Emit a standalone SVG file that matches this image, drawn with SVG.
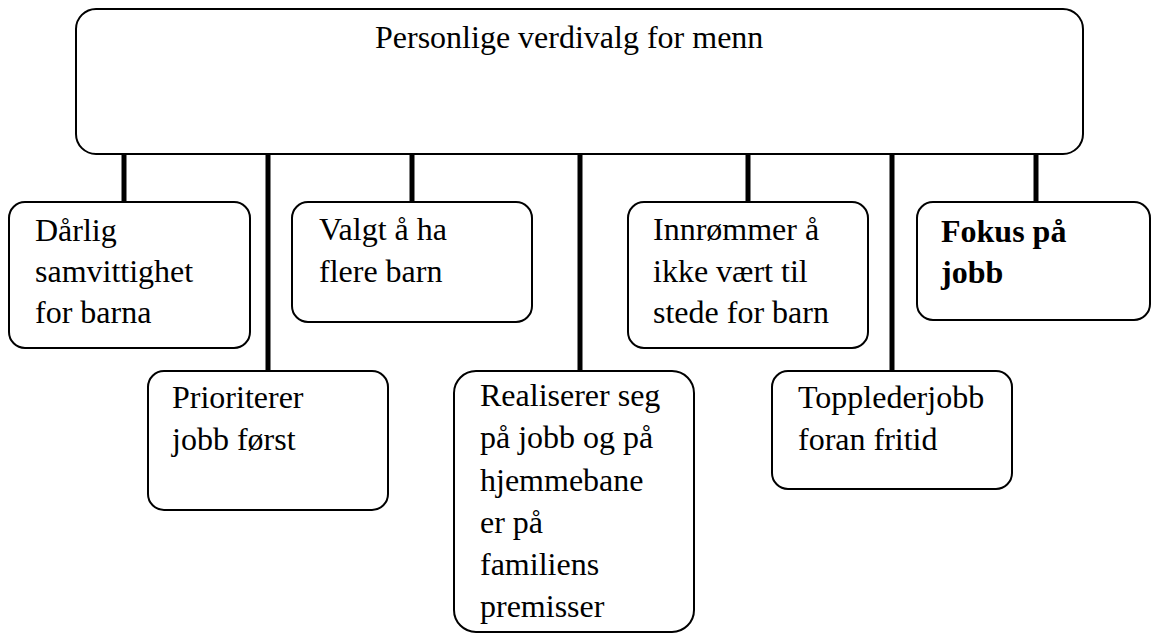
<svg xmlns="http://www.w3.org/2000/svg" width="1152" height="634" viewBox="0 0 1152 634">
  <style>
    .box { fill: #ffffff; stroke: #000000; stroke-width: 2; }
    .link { stroke: #000000; stroke-width: 5; fill: none; }
    .lbl { font-size: 32px; fill: #000000; }
    .bold { font-weight: bold; }
  </style>
  <rect width="1152" height="634" fill="#ffffff"/>

  <!-- vertical connectors from the root box down to each value box -->
  <g id="connectors">
    <line class="link" x1="124" y1="154" x2="124" y2="202"/>
    <line class="link" x1="268" y1="154" x2="268" y2="371"/>
    <line class="link" x1="412" y1="154" x2="412" y2="202"/>
    <line class="link" x1="580" y1="154" x2="580" y2="371"/>
    <line class="link" x1="748" y1="154" x2="748" y2="202"/>
    <line class="link" x1="892" y1="154" x2="892" y2="371"/>
    <line class="link" x1="1036" y1="154" x2="1036" y2="202"/>
  </g>

  <g font-family="'Liberation Serif', 'DejaVu Serif', serif">
  <g id="root">
    <rect class="box" x="76" y="9" width="1007" height="145" rx="20" ry="20"/>
    <text class="lbl" x="375" y="48">Personlige verdivalg for menn</text>
  </g>

  <g id="node-daarlig">
    <rect class="box" x="9" y="202" width="241" height="146" rx="16" ry="16"/>
    <text class="lbl" x="35" y="241">Dårlig</text>
    <text class="lbl" x="35" y="282">samvittighet</text>
    <text class="lbl" x="35" y="323">for barna</text>
  </g>

  <g id="node-prioriterer">
    <rect class="box" x="148" y="371" width="240" height="139" rx="16" ry="16"/>
    <text class="lbl" x="172" y="408">Prioriterer</text>
    <text class="lbl" x="172" y="450">jobb først</text>
  </g>

  <g id="node-valgt">
    <rect class="box" x="292" y="202" width="240" height="120" rx="16" ry="16"/>
    <text class="lbl" x="319" y="240">Valgt å ha</text>
    <text class="lbl" x="319" y="282">flere barn</text>
  </g>

  <g id="node-realiserer">
    <rect class="box" x="454" y="371" width="240" height="261" rx="22" ry="22"/>
    <text class="lbl" x="480" y="406">Realiserer seg</text>
    <text class="lbl" x="480" y="448">på jobb og på</text>
    <text class="lbl" x="480" y="491">hjemmebane</text>
    <text class="lbl" x="480" y="533">er på</text>
    <text class="lbl" x="480" y="575">familiens</text>
    <text class="lbl" x="480" y="617">premisser</text>
  </g>

  <g id="node-innrommer">
    <rect class="box" x="628" y="202" width="240" height="146" rx="16" ry="16"/>
    <text class="lbl" x="653" y="240">Innrømmer å</text>
    <text class="lbl" x="653" y="282">ikke vært til</text>
    <text class="lbl" x="653" y="323">stede for barn</text>
  </g>

  <g id="node-toppleder">
    <rect class="box" x="772" y="371" width="240" height="118" rx="16" ry="16"/>
    <text class="lbl" x="798" y="408">Topplederjobb</text>
    <text class="lbl" x="798" y="450">foran fritid</text>
  </g>

  <g id="node-fokus">
    <rect class="box" x="917" y="202" width="233" height="118" rx="16" ry="16"/>
    <text class="lbl bold" x="941" y="242">Fokus på</text>
    <text class="lbl bold" x="941" y="283">jobb</text>
  </g>
  </g>
</svg>
